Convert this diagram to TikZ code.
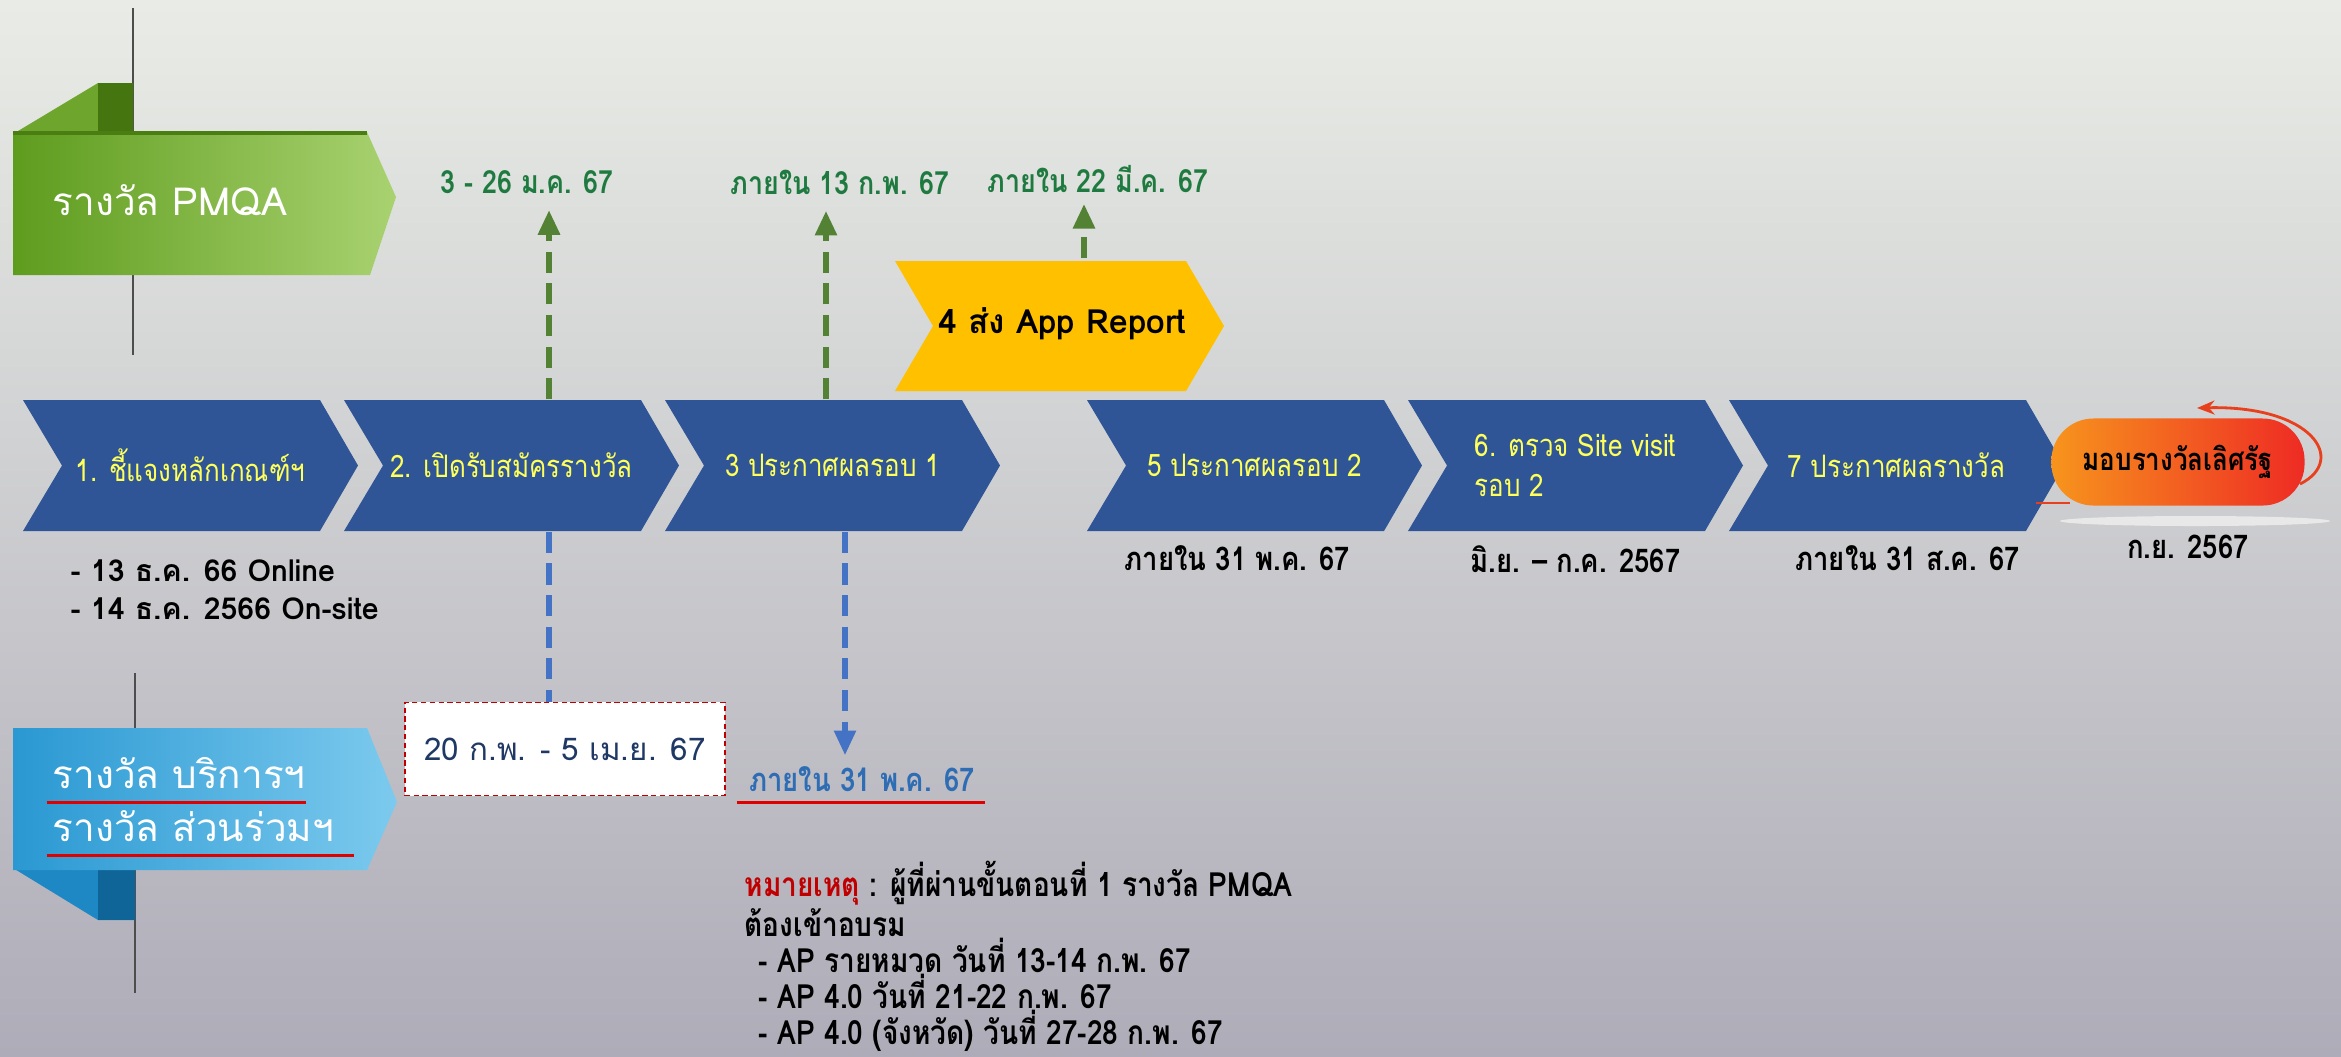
\documentclass[tikz,border=0pt]{standalone}
\usepackage{fontspec}
\setmainfont[Script=Thai]{Loma}
\newfontfamily\thcond[Script=Thai,FakeStretch=0.84]{Loma}
\usepackage{tikz}
\usetikzlibrary{arrows.meta}
\usetikzlibrary{calc}
\usetikzlibrary{positioning}

\definecolor{bgtop}{HTML}{E9ECE6}
\definecolor{bgmid}{HTML}{D4DBD7}
\definecolor{bgbot}{HTML}{AEACB8}
\definecolor{pmqaleft}{HTML}{5E9C1E}
\definecolor{pmqaright}{HTML}{A9D270}
\definecolor{pmqafold}{HTML}{6EA52C}
\definecolor{pmqadark}{HTML}{44750F}
\definecolor{pmqaedge}{HTML}{4A7D12}
\definecolor{awleft}{HTML}{2A98D2}
\definecolor{awright}{HTML}{7CCAEE}
\definecolor{awfold}{HTML}{1E88C4}
\definecolor{awdark}{HTML}{0F6598}
\definecolor{foldgray}{HTML}{4D4D4D}
\definecolor{chevblue}{HTML}{2F5597}
\definecolor{chevyellow}{HTML}{FFFF5A}
\definecolor{appyellow}{HTML}{FFC000}
\definecolor{labgreen}{HTML}{1F7A40}
\definecolor{arrgreen}{HTML}{548235}
\definecolor{arrblue}{HTML}{4472C4}
\definecolor{txtblue}{HTML}{2E6DB4}
\definecolor{ulred}{HTML}{E00000}
\definecolor{boxred}{HTML}{C00000}
\definecolor{navy}{HTML}{1F3864}
\definecolor{awardleft}{HTML}{F7941D}
\definecolor{awardright}{HTML}{EE2B24}
\definecolor{loopred}{HTML}{E8401C}

\tikzstyle{chevtext} = [minimum width=3.35cm, minimum height=1.31cm, inner sep=0pt,
    align=left, text=chevyellow, font=\thcond\fontsize{8.8}{11.5}\selectfont]
\tikzstyle{bannertext} = [inner sep=0pt, text=white, font=\fontsize{11}{13}\selectfont]
\tikzstyle{glabel} = [inner sep=0pt, text=labgreen, font=\thcond\bfseries\fontsize{9.1}{10}\selectfont]
\tikzstyle{datetext} = [inner sep=0pt, text=black, font=\thcond\bfseries\fontsize{9.3}{10}\selectfont]
\tikzstyle{garrow} = [draw=arrgreen, line width=1.6pt, dash pattern=on 6pt off 3pt,
    -{Triangle[length=7pt,width=6pt,fill=arrgreen]}]
\tikzstyle{bline} = [draw=arrblue, line width=1.5pt, dash pattern=on 6pt off 3pt]
\tikzstyle{redline} = [draw=ulred, line width=1pt]

\begin{document}
\begin{tikzpicture}[x=0.01cm, y=-0.01cm]

    \useasboundingbox (0,0) rectangle (2341,1056);
    \shade[top color=bgtop, middle color=bgmid, bottom color=bgbot] (0,0) rectangle (2341,1056);

    \draw[foldgray, line width=0.8pt] (133,8) -- (133,355);
    \fill[pmqafold] (13,134) -- (98,83) -- (133,83) -- (133,134) -- cycle;
    \fill[pmqadark] (98,83) rectangle (133,132);
    \shade[left color=pmqaleft, right color=pmqaright] (13,132) -- (367,132) -- (396,197) -- (370,275) -- (13,275) -- cycle;
    \draw[pmqaedge, line width=1.2pt] (13,133) -- (367,133);
    \node[bannertext, anchor=west] (pmqa) at (52,200) {รางวัล PMQA};

    \draw[foldgray, line width=0.8pt] (135,673) -- (135,993);
    \fill[awfold] (13,868) -- (98,920) -- (135,920) -- (135,868) -- cycle;
    \fill[awdark] (98,868) rectangle (135,920);
    \shade[left color=awleft, right color=awright] (13,728) -- (367,728) -- (397,802) -- (367,870) -- (13,870) -- cycle;
    \node[bannertext, anchor=west] (svc1) at (52,773) {รางวัล บริการฯ};
    \node[bannertext, anchor=west] (svc2) at (52,826) {รางวัล ส่วนร่วมฯ};
    \draw[redline] ($(svc1.base west)+(-5,14)$) -- ($(svc1.base west)+(254,14)$);
    \draw[redline] ($(svc2.base west)+(-5,14)$) -- ($(svc2.base west)+(302,14)$);

    \foreach \n/\x/\t in {1/23/{1. ชี้แจงหลักเกณฑ์ฯ}, 2/344/{2. เปิดรับสมัครรางวัล},
        3/665/{3 ประกาศผลรอบ 1}, 5/1087/{5 ประกาศผลรอบ 2},
        6/1408/{6. ตรวจ Site visit\\รอบ 2}, 7/1729/{7 ประกาศผลรางวัล}} {
        \fill[chevblue] (\x,400) -- ++(297,0) -- ++(38,65.5) -- ++(-38,65.5) -- ++(-297,0) -- ++(39,-65.5) -- cycle;
        \node[chevtext] (ch\n) at (\x+167.5,465.5) {\t};
    }

    \fill[appyellow] (895,261) -- ++(291,0) -- ++(38,65) -- ++(-38,65) -- ++(-291,0) -- ++(38,-65) -- cycle;
    \node[chevtext, minimum width=3.29cm, minimum height=1.3cm, text=black,
        font=\bfseries\fontsize{9.5}{10}\selectfont] (ch4) at (1062,324) {4 ส่ง App Report};

    \node[glabel] (g1) at (527,182) {3 - 26 ม.ค. 67};
    \node[glabel] (g2) at (840,182) {ภายใน 13 ก.พ. 67};
    \node[glabel] (g3) at (1098,179) {ภายใน 22 มี.ค. 67};
    \draw[garrow, shorten >=4.5pt] ([xshift=0.375cm]ch2.north) -- ([xshift=0.375cm]ch2.north |- g1.south);
    \draw[garrow, shorten >=4.5pt] ([xshift=-0.065cm]ch3.north) -- ([xshift=-0.065cm]ch3.north |- g2.south);
    \draw[garrow, shorten >=3pt] ([xshift=0.22cm]ch4.north) -- ([xshift=0.22cm]ch4.north |- g3.south);

    \node[inner sep=0pt, anchor=north west, align=left, font=\bfseries\fontsize{8.6}{10.8}\selectfont] (sub1) at (70,559)
        {- 13 ธ.ค. 66 Online\\- 14 ธ.ค. 2566 On-site};

    \node[draw=boxred, line width=0.5pt, dash pattern=on 1.5pt off 1pt, fill=white, minimum width=3.2cm,
        minimum height=0.93cm, text=navy, font=\fontsize{8.9}{11}\selectfont] (regbox) at (565,749) {20 ก.พ. - 5 เม.ย. 67};
    \draw[bline] ([xshift=0.375cm]ch2.south) -- ([xshift=0.375cm]ch2.south |- regbox.north);

    \node[datetext, text=txtblue] (bdate) at (862,779) {ภายใน 31 พ.ค. 67};
    \draw[bline, -{Triangle[length=7pt,width=6pt,fill=arrblue]}, shorten >=3pt] ([xshift=0.125cm]ch3.south) -- ([xshift=0.125cm]ch3.south |- bdate.north);
    \draw[redline] ($(bdate.base west)+(-12,11)$) -- ($(bdate.base east)+(10,11)$);

    \node[datetext, below=0.13cm of ch5, xshift=-0.17cm] (d5) {ภายใน 31 พ.ค. 67};
    \node[datetext, below=0.13cm of ch6] (d6) {มิ.ย. – ก.ค. 2567};
    \node[datetext, below=0.13cm of ch7, xshift=0.11cm] (d7) {ภายใน 31 ส.ค. 67};

    \draw[loopred, line width=0.8pt] (2036,503) -- (2070,503);
    \fill[white, opacity=0.55] (2195,521) ellipse [x radius=1.35cm, y radius=0.05cm];
    \node[rounded corners=0.42cm, left color=awardleft, right color=awardright, minimum width=2.53cm,
        minimum height=0.87cm, inner sep=0pt, text=black, font=\thcond\bfseries\fontsize{8.8}{10}\selectfont] (award) at (2178,462) {มอบรางวัลเลิศรัฐ};
    \draw[loopred, line width=0.8pt, -{Stealth[length=5pt,width=4pt,fill=awardleft]}] (2300,484) .. controls (2348,460) and (2312,405) .. (2197,408);
    \node[datetext, below=0.28cm of award, xshift=0.1cm] (d8) {ก.ย. 2567};

    \node[inner sep=0pt, anchor=north west, align=left, font=\thcond\bfseries\fontsize{9.5}{10.3}\selectfont] (note) at (744,860)
        {{\color{boxred}หมายเหตุ} : ผู้ที่ผ่านขั้นตอนที่ 1 รางวัล PMQA\\
        ต้องเข้าอบรม\\
        \hspace*{4pt}- AP รายหมวด วันที่ 13-14 ก.พ. 67\\
        \hspace*{4pt}- AP 4.0 วันที่ 21-22 ก.พ. 67\\
        \hspace*{4pt}- AP 4.0 (จังหวัด) วันที่ 27-28 ก.พ. 67};
\end{tikzpicture}
\end{document}
